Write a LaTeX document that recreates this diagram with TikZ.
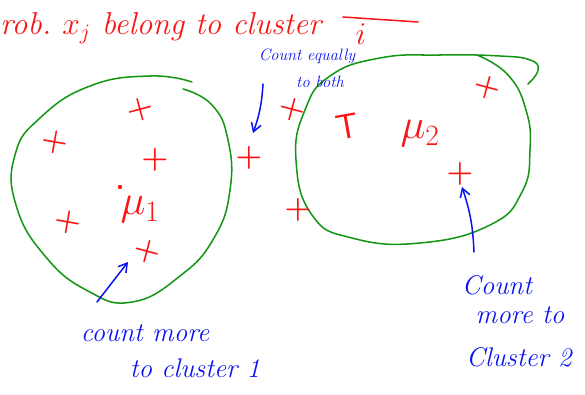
\RequirePackage{fix-cm}
\documentclass[tikz,border=0pt]{standalone}
\usepackage{tikz}
\usetikzlibrary{arrows.meta,positioning}
\definecolor{inkred}{RGB}{250,20,20}
\definecolor{inkgreen}{RGB}{20,150,20}
\definecolor{inkblue}{RGB}{10,20,240}

\begin{document}
\begin{tikzpicture}[x=0.03cm, y=-0.03cm,
			pt/.style={text=inkred, inner sep=0pt, font=\fontsize{26}{26}\selectfont\bfseries},
			mean/.style={text=inkred, inner sep=0pt, font=\fontsize{36}{36}\selectfont},
			redtxt/.style={text=inkred, inner sep=0pt, font=\fontsize{27}{27}\selectfont\itshape},
			bluetxt/.style={text=inkblue, inner sep=0pt, font=\fontsize{23}{23}\selectfont\itshape},
			ring/.style={draw=inkgreen, line width=1.3pt, line cap=round},
			arr/.style={draw=inkblue, line width=1.3pt, line cap=round, -{Straight Barb[length=2.5mm, width=3mm]}}]
			\useasboundingbox (0,0) rectangle (585,395);
			% title
			\node[redtxt, anchor=west] (title) at (0,28) {rob.~$x_j$ belong to cluster};
			\node[redtxt] (idx) at (361,34) {$i$};
			\draw[inkred, line width=1.3pt, line cap=round] (343,17) -- (418,22);
			% the two clusters
			\draw[ring] plot[smooth, tension=0.8] coordinates {(183,89) (212,105) (228,140) (230,190) (214,238) (180,276) (132,302) (88,291) (45,256) (16,205) (15,155) (40,118) (90,86) (150,76) (192,82)};
			\draw[ring] plot[smooth, tension=0.8] coordinates {(477,55) (508,75) (526,110) (530,150) (522,192) (490,225) (420,243) (352,238) (312,215) (296,160) (305,110) (330,76) (380,58) (440,55) (500,56) (530,60) (538,70) (528,84)};
			% points of cluster 1
			\node[pt, rotate=15] (a1) at (140,110) {+};
			\node[pt, rotate=-10] (a2) at (55,142) {+};
			\node[pt] (a3) at (155,160) {+};
			\node[pt, rotate=-10] (a4) at (68,222) {+};
			\node[pt, rotate=-15] (a5) at (147,252) {+};
			\node[mean] (m1) at (140,210) {$\mu_1$};
			\fill[inkred] (120,187) circle (2.2);
			% points in between
			\node[pt] (c1) at (249,158) {+};
			\node[pt, rotate=-15] (c2) at (292,110) {+};
			% points of cluster 2
			\node[pt, rotate=10, font=\fontsize{30}{30}\selectfont\sffamily] (b1) at (347,127) {T};
			\node[pt, rotate=-15] (b2) at (487,88) {+};
			\node[pt] (b3) at (460,174) {+};
			\node[pt] (b4) at (298,210) {+};
			\node[mean] (m2) at (420,134) {$\mu_2$};
			% notes
			\node[bluetxt, font=\fontsize{14}{14}\selectfont\itshape] (eq) at (307,56) {Count equally};
			\node[bluetxt, font=\fontsize{14}{14}\selectfont\itshape] (eqb) at (320,82) {to both};
			\coordinate (eqtail) at (263,84);
			\coordinate (eqtip) at (253,133);
			\draw[arr] (eqtail) to[bend left=8] (eqtip);
			\node[bluetxt] (mo1) at (145,333) {count more};
			\node[bluetxt] (mo1b) at (195,368) {to cluster 1};
			\coordinate (motail) at (97,302);
			\coordinate (motip) at (128,262);
			\draw[arr] (motail) -- (motip);
			\node[bluetxt] (mo2) at (497,285) {Count};
			\node[bluetxt] (mo2b) at (520,315) {more to};
			\node[bluetxt, anchor=west] (mo2c) at (466,357) {Cluster 2};
			\coordinate (mo2tail) at (474,252);
			\coordinate (mo2tip) at (462,187);
			\draw[arr] (mo2tail) to[bend right=8] (mo2tip);
		\end{tikzpicture}
\end{document}
